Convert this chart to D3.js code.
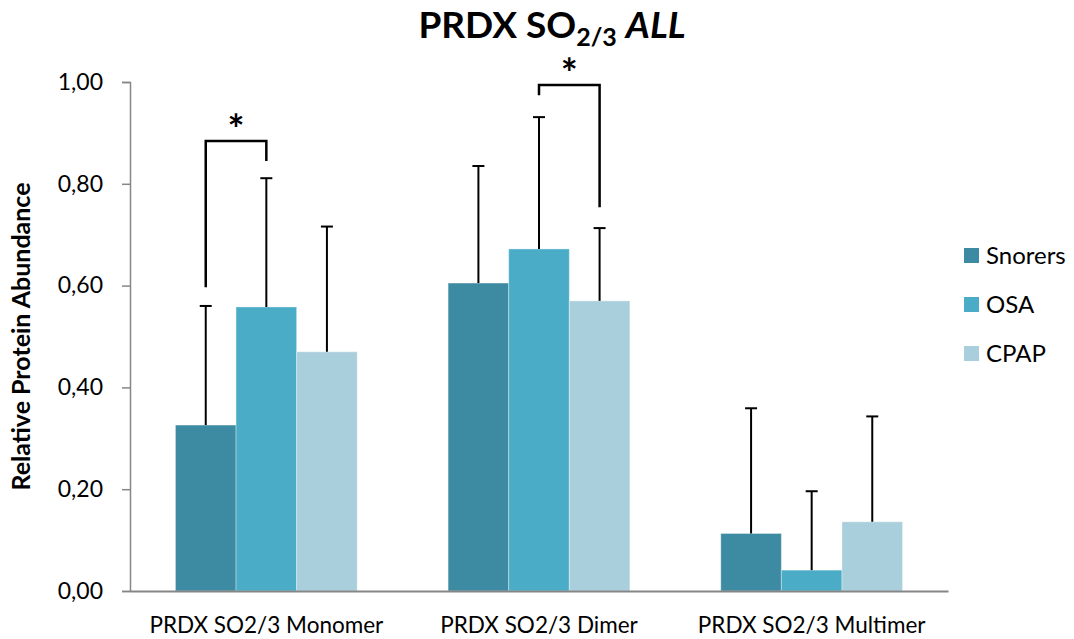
<!DOCTYPE html>
<html><head><meta charset="utf-8">
<script src="https://cdn.jsdelivr.net/npm/d3@7"></script>
<style>body{margin:0;background:#fff}svg{display:block}text{font-family:Lato,"Open Sans",sans-serif}</style>
</head><body><svg id="c" width="1074" height="639"></svg>
<script>
const categories = ["PRDX SO2/3 Monomer", "PRDX SO2/3 Dimer", "PRDX SO2/3 Multimer"];
const seriesNames = ["Snorers", "OSA", "CPAP"];
const colors = ["#3d8ba2", "#4aacc6", "#aacfdc"];
const snorers = [0.326, 0.605, 0.113];
const osa = [0.558, 0.672, 0.041];
const cpap = [0.470, 0.570, 0.136];
const snorersErrTop = [0.560, 0.835, 0.359];
const osaErrTop = [0.811, 0.931, 0.196];
const cpapErrTop = [0.716, 0.713, 0.343];
const yTicks = [0, 0.2, 0.4, 0.6, 0.8, 1.0];
// significance brackets: category, left series, right series, left foot, top, right foot
const brackets = [
  {cat: 0, a: 0, b: 1, left: 0.597, top: 0.884, right: 0.845},
  {cat: 1, a: 1, b: 2, left: 0.974, top: 0.994, right: 0.754}
];

const values = [snorers, osa, cpap];
const errTops = [snorersErrTop, osaErrTop, cpapErrTop];

const svg = d3.select("#c");
const m = {left: 130, right: 126, top: 82, bottom: 48};
const W = 1074, H = 639;
const x0 = d3.scaleBand().domain(categories).range([m.left, W - m.right]).paddingInner(1/3).paddingOuter(1/6);
const x1 = d3.scaleBand().domain(seriesNames).range([0, x0.bandwidth()]);
const y = d3.scaleLinear().domain([0, 1]).range([H - m.bottom, m.top]);
const fmt = d => d3.format(".2f")(d).replace(".", ",");

// bars
categories.forEach((c, ci) => {
  seriesNames.forEach((s, si) => {
    svg.append("rect")
      .attr("x", x0(c) + x1(s)).attr("width", x1.bandwidth())
      .attr("y", y(values[si][ci])).attr("height", y(0) - y(values[si][ci]))
      .attr("fill", colors[si]).attr("stroke", "#ffffff").attr("stroke-opacity", 0.35).attr("stroke-width", 1);
  });
});

// error bars
categories.forEach((c, ci) => {
  seriesNames.forEach((s, si) => {
    const cx = x0(c) + x1(s) + x1.bandwidth() / 2;
    svg.append("line").attr("x1", cx).attr("x2", cx)
      .attr("y1", y(values[si][ci])).attr("y2", y(errTops[si][ci]))
      .attr("stroke", "#000").attr("stroke-width", 2);
    svg.append("line").attr("x1", cx - 6).attr("x2", cx + 6)
      .attr("y1", y(errTops[si][ci])).attr("y2", y(errTops[si][ci]))
      .attr("stroke", "#000").attr("stroke-width", 2);
  });
});

// axes
const yAxis = d3.axisLeft(y).tickValues(yTicks).tickFormat(fmt).tickSize(8).tickPadding(19);
const gy = svg.append("g").attr("transform", `translate(${m.left},0)`).call(yAxis);
gy.select(".domain").attr("stroke", "#868686").attr("stroke-width", 1.5);
gy.selectAll(".tick line").attr("stroke", "#868686").attr("stroke-width", 1.5);
gy.selectAll(".tick text").attr("font-size", 23).attr("fill", "#000").attr("font-family", "Lato, sans-serif");

const xAxis = d3.axisBottom(x0).tickSize(0).tickPadding(26);
const gx = svg.append("g").attr("transform", `translate(0,${y(0)})`).call(xAxis);
gx.select(".domain").attr("stroke", "#868686").attr("stroke-width", 2);
gx.selectAll(".tick text").attr("font-size", 22.5).attr("fill", "#000").attr("font-family", "Lato, sans-serif");

// brackets
brackets.forEach(b => {
  const xa = x0(categories[b.cat]) + x1(seriesNames[b.a]) + x1.bandwidth() / 2;
  const xb = x0(categories[b.cat]) + x1(seriesNames[b.b]) + x1.bandwidth() / 2;
  svg.append("path")
    .attr("d", `M${xa},${y(b.left)}V${y(b.top)}H${xb}V${y(b.right)}`)
    .attr("fill", "none").attr("stroke", "#000").attr("stroke-width", 2.5);
  svg.append("text").attr("x", (xa + xb) / 2).attr("y", y(b.top) + 3)
    .attr("text-anchor", "middle").attr("font-size", 40).attr("font-weight", "bold").text("*");
});

// y title
svg.append("text").attr("transform", `translate(30,${(y(0) + y(1)) / 2}) rotate(-90)`)
  .attr("text-anchor", "middle").attr("font-size", 25).attr("font-weight", "bold").text("Relative Protein Abundance");

// title
const t = svg.append("text").attr("x", 552).attr("y", 38).attr("text-anchor", "middle")
  .attr("font-size", 37).attr("font-weight", "bold");
t.append("tspan").text("PRDX SO");
t.append("tspan").attr("font-size", 25).attr("dy", 8).text("2/3");
t.append("tspan").attr("dy", -8).text(" ");
t.append("tspan").attr("font-style", "italic").text("ALL");

// legend
seriesNames.forEach((s, i) => {
  const ly = 248 + i * 49;
  svg.append("rect").attr("x", 964).attr("y", ly).attr("width", 15).attr("height", 15).attr("fill", colors[i]);
  svg.append("text").attr("x", 986).attr("y", ly + 16).attr("font-size", 24).text(s);
});
</script></body></html>
